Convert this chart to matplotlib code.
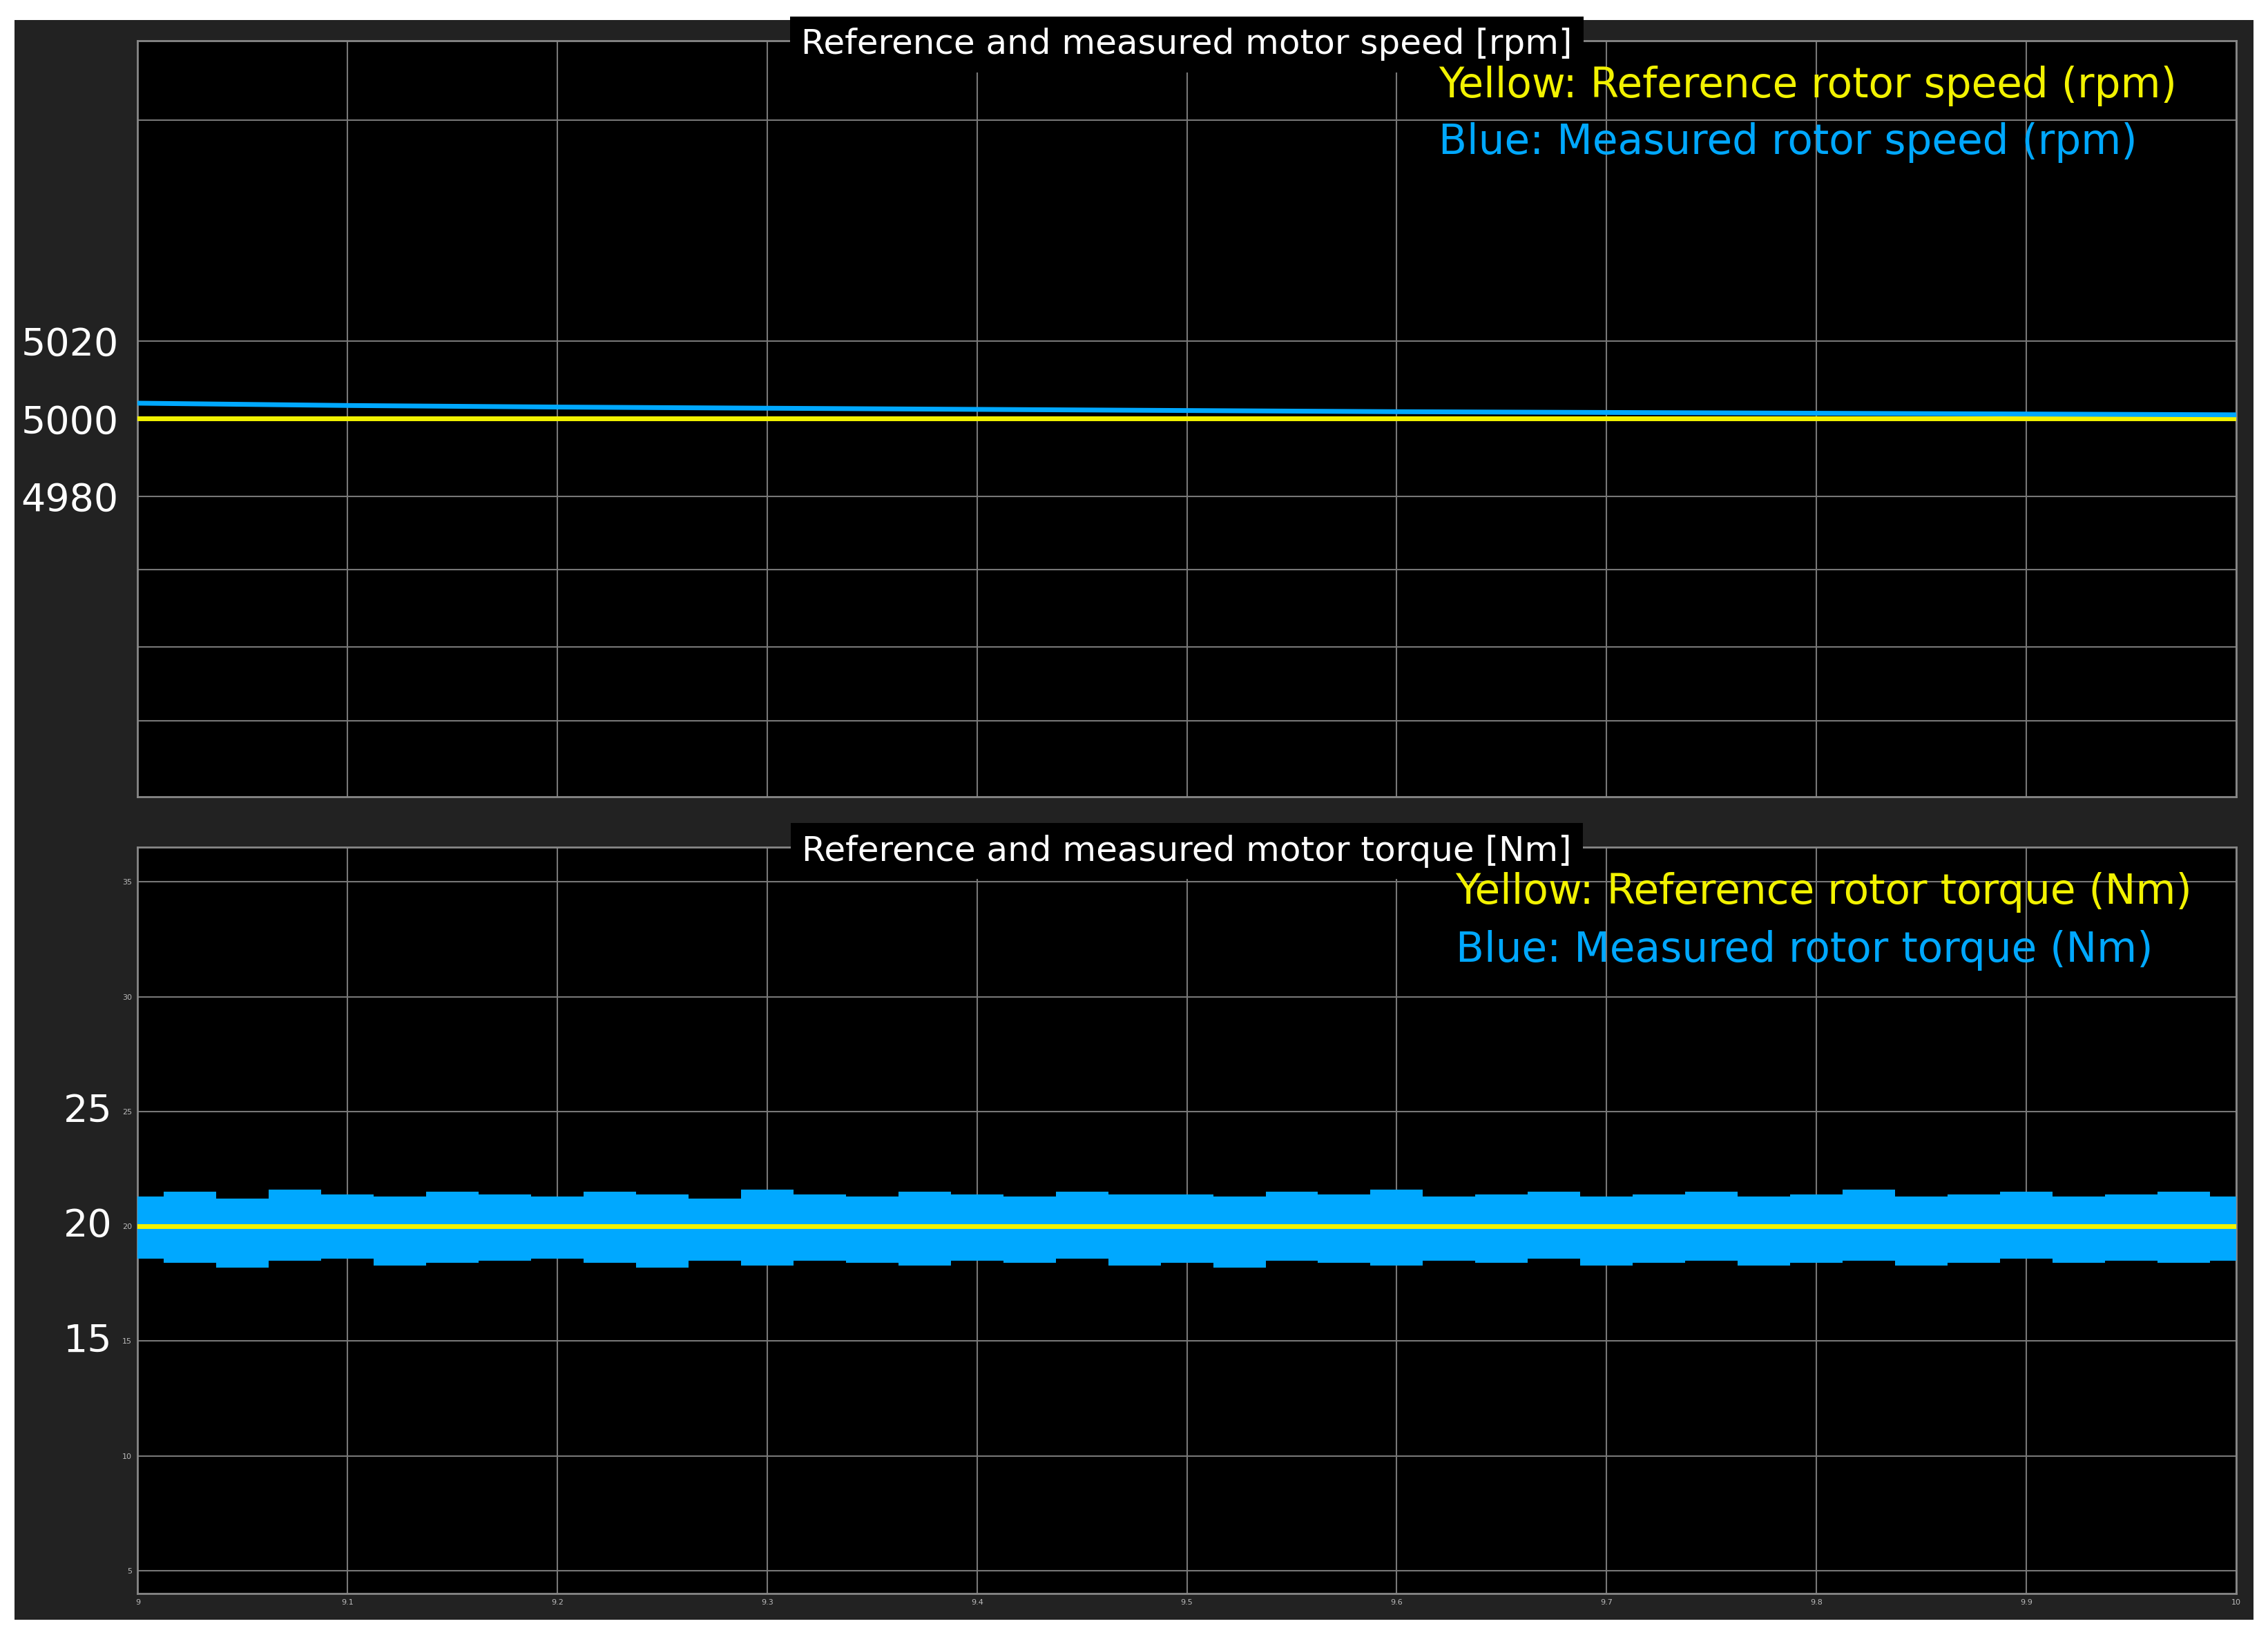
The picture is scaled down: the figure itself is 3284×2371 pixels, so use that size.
import matplotlib.pyplot as plt
import numpy as np

# time axis (s)
x_ticks = [9.0, 9.1, 9.2, 9.3, 9.4, 9.5, 9.6, 9.7, 9.8, 9.9, 10.0]
x_labels = ['9', '9.1', '9.2', '9.3', '9.4', '9.5', '9.6', '9.7', '9.8', '9.9', '10']

# speed panel
speed_ref = [5000, 5000]
speed_t = [9.0, 9.1, 9.2, 9.3, 9.4, 9.5, 9.6, 9.7, 9.8, 9.9, 10.0]
speed_meas = [5004.0, 5003.4, 5003.0, 5002.7, 5002.4, 5002.1, 5001.8, 5001.6, 5001.4, 5001.2, 5001.0]
speed_grid = [4922, 4941, 4961, 4980, 5000, 5020, 5077]
speed_labels = ['4980', '5000', '5020']

# torque panel: envelope of the measured torque band, read at even steps
torque_ref = [20, 20]
torque_t = [9.0, 9.025, 9.05, 9.075, 9.1, 9.125, 9.15, 9.175, 9.2, 9.225, 9.25, 9.275, 9.3,
            9.325, 9.35, 9.375, 9.4, 9.425, 9.45, 9.475, 9.5, 9.525, 9.55, 9.575, 9.6,
            9.625, 9.65, 9.675, 9.7, 9.725, 9.75, 9.775, 9.8, 9.825, 9.85, 9.875, 9.9,
            9.925, 9.95, 9.975, 10.0]
torque_hi = [21.3, 21.5, 21.2, 21.6, 21.4, 21.3, 21.5, 21.4, 21.3, 21.5, 21.4, 21.2, 21.6,
             21.4, 21.3, 21.5, 21.4, 21.3, 21.5, 21.4, 21.4, 21.3, 21.5, 21.4, 21.6,
             21.3, 21.4, 21.5, 21.3, 21.4, 21.5, 21.3, 21.4, 21.6, 21.3, 21.4, 21.5,
             21.3, 21.4, 21.5, 21.3]
torque_lo = [18.6, 18.4, 18.2, 18.5, 18.6, 18.3, 18.4, 18.5, 18.6, 18.4, 18.2, 18.5, 18.3,
             18.5, 18.4, 18.3, 18.5, 18.4, 18.6, 18.3, 18.4, 18.2, 18.5, 18.4, 18.3,
             18.5, 18.4, 18.6, 18.3, 18.4, 18.5, 18.3, 18.4, 18.5, 18.3, 18.4, 18.6,
             18.4, 18.5, 18.4, 18.5]
torque_grid = [5, 10, 15, 20, 25, 30, 35]
torque_labels = ['15', '20', '25']

W, H = 3284, 2371
fig = plt.figure(figsize=(W / 100, H / 100), dpi=100, facecolor='white')

def box(x0, y0, x1, y1):
    return [x0 / 1565, 1 - y1 / 1130, (x1 - x0) / 1565, (y1 - y0) / 1130]

bg = fig.add_axes(box(10, 14, 1555, 1118), zorder=-5)
bg.set_facecolor('#222222')
bg.set_xticks([])
bg.set_yticks([])
for s in bg.spines.values():
    s.set_visible(False)

ax1 = fig.add_axes(box(95, 28, 1543, 550))
ax2 = fig.add_axes(box(95, 585, 1543, 1100))
yellow = '#f2f200'
blue = '#00a8ff'

for ax in (ax1, ax2):
    ax.set_facecolor('black')
    ax.set_xlim(9.0, 10.0)
    ax.set_xticks(x_ticks)
    ax.grid(True, color='#777777', lw=1.5)
    for s in ax.spines.values():
        s.set_color('#888888')
        s.set_linewidth(2)

ax1.plot([9.0, 10.0], speed_ref, color=yellow, lw=5, zorder=3)
ax1.plot(speed_t, speed_meas, color=blue, lw=5, zorder=4)
ax1.set_ylim(4902.4, 5097.6)
ax1.set_yticks(speed_grid)
ax1.set_yticklabels(['', '', '', '4980', '5000', '5020', ''], fontsize=40, color='white')
ax1.set_xticklabels([])
ax1.tick_params(length=0, pad=20)
ax1.text(0.5, 0.995, 'Reference and measured motor speed [rpm]', transform=ax1.transAxes,
         ha='center', va='center', fontsize=36, color='white',
         bbox=dict(facecolor='black', edgecolor='none', pad=12))
ax1.text(0.62, 0.94, 'Yellow: Reference rotor speed (rpm)', transform=ax1.transAxes,
         fontsize=43, color=yellow, va='center')
ax1.text(0.62, 0.865, 'Blue: Measured rotor speed (rpm)', transform=ax1.transAxes,
         fontsize=43, color=blue, va='center')

ax2.fill_between(torque_t, torque_lo, torque_hi, color=blue, step='mid', lw=0, zorder=3)
ax2.plot([9.0, 10.0], torque_ref, color=yellow, lw=5, zorder=4)
ax2.set_ylim(4, 36.5)
ax2.set_yticks(torque_grid)
ax2.set_yticklabels(['5', '10', '15', '20', '25', '30', '35'], fontsize=8, color='#bbbbbb')
ax2.set_xticklabels(x_labels, fontsize=8, color='#bbbbbb')
ax2.tick_params(length=0, pad=6)
for v, lab in zip([15, 20, 25], torque_labels):
    ax2.text(-0.012, v, lab, transform=ax2.get_yaxis_transform(), ha='right', va='center',
             fontsize=40, color='white')
ax2.text(0.5, 0.995, 'Reference and measured motor torque [Nm]', transform=ax2.transAxes,
         ha='center', va='center', fontsize=36, color='white',
         bbox=dict(facecolor='black', edgecolor='none', pad=12))
ax2.text(0.628, 0.94, 'Yellow: Reference rotor torque (Nm)', transform=ax2.transAxes,
         fontsize=43, color=yellow, va='center')
ax2.text(0.628, 0.862, 'Blue: Measured rotor torque (Nm)', transform=ax2.transAxes,
         fontsize=43, color=blue, va='center')

fig.savefig('out.png', dpi=100, facecolor='white')
